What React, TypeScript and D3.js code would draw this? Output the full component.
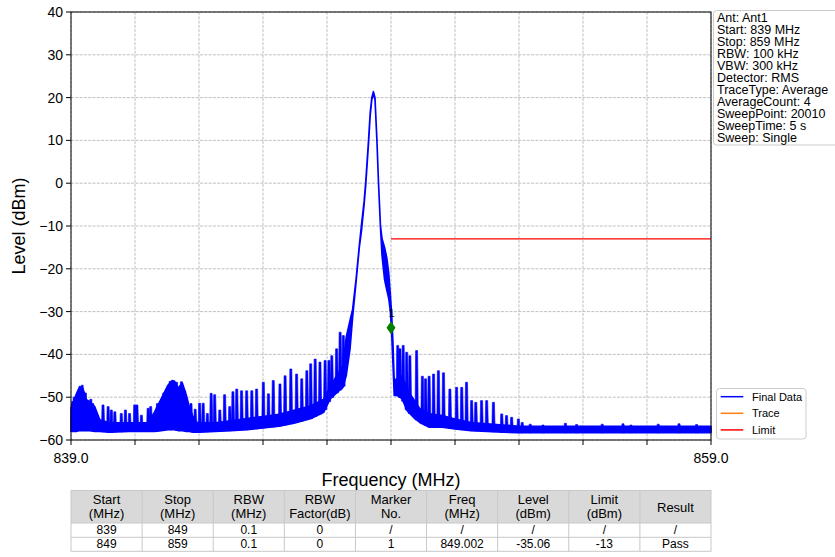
import React from 'react';
import * as d3 from 'd3';

// ---------- data ----------
const envFreq = [839.00, 839.17, 839.27, 839.375, 839.48, 839.58, 839.74, 839.90, 840.20, 840.80, 841.40, 841.61, 841.82, 842.03, 842.16, 842.24, 842.34, 842.48, 842.60, 842.71, 842.81, 842.95, 843.50, 844.00, 844.50, 845.00, 845.50, 846.00, 846.50, 846.90, 847.10, 847.30, 847.50, 847.60, 847.72, 847.80, 847.91, 848.01, 848.08, 848.16, 848.21, 848.30, 848.35, 848.40, 848.45, 848.50, 848.56, 848.61, 848.67, 848.72, 848.80, 848.87, 848.93, 848.98, 849.02, 849.06, 849.10, 849.20, 849.35, 849.50, 849.70, 849.90, 850.20, 850.60, 851.00, 851.50, 852.00, 852.50, 853.00, 859.00];
const envHigh = [-52.5, -49.2, -47.5, -48.0, -50.6, -51.0, -52.2, -55.3, -56.0, -56.0, -56.0, -53.5, -50.3, -47.2, -46.1, -46.3, -47.9, -46.7, -49.4, -52.6, -54.5, -56.0, -56.0, -55.5, -55.0, -54.5, -54.0, -53.0, -52.0, -50.5, -47.5, -45.0, -42.6, -36.0, -32.0, -29.5, -22.3, -14.5, -9.5, -4.2, 0.3, 10.3, 16.5, 20.0, 21.4, 20.0, 10.2, 0.2, -9.8, -13.0, -15.0, -17.5, -21.0, -26.0, -30.5, -37.0, -46.0, -45.7, -45.0, -48.1, -50.4, -52.7, -53.9, -54.3, -55.1, -55.9, -56.2, -56.5, -56.8, -56.8];
const envLow = [-58.0, -58.0, -57.8, -57.8, -57.8, -57.8, -58.0, -58.0, -58.2, -58.0, -58.0, -58.0, -57.8, -57.6, -57.6, -57.6, -57.8, -57.8, -58.0, -58.0, -58.2, -58.2, -58.0, -57.8, -57.6, -57.2, -56.8, -56.0, -55.0, -53.5, -50.4, -49.0, -47.7, -45.0, -38.7, -31.5, -23.0, -15.0, -11.0, -5.0, -0.5, 9.5, 15.8, 19.5, 21.0, 19.5, 9.8, -0.2, -10.3, -17.0, -22.6, -25.0, -27.0, -30.0, -35.0, -42.0, -49.6, -49.6, -50.4, -53.1, -54.7, -55.9, -57.0, -57.0, -57.4, -57.8, -58.0, -58.2, -58.3, -58.3];

const spikeFreq = [839.05, 839.10, 839.35, 839.45, 839.62, 839.68,
  840.00, 840.16, 840.26, 840.37, 840.57, 840.70, 840.83, 840.99, 841.06, 841.20, 841.41, 841.49,
  841.70, 841.90, 842.10, 842.30, 842.45, 842.55, 842.75, 842.88,
  843.02, 843.13, 843.26, 843.38, 843.49, 843.65, 843.80, 843.96, 844.06, 844.18, 844.33, 844.49, 844.65, 844.80,
  845.01, 845.17, 845.32, 845.53, 845.69, 845.87, 846.05, 846.21, 846.37, 846.49, 846.63, 846.78, 846.94, 847.06,
  847.15, 847.30, 847.41, 847.51,
  849.21, 849.28, 849.38, 849.49, 849.59, 849.80, 849.98, 850.08, 850.19, 850.33, 850.48, 850.64, 850.84, 851.05,
  851.21, 851.36, 851.52, 851.65, 851.83, 851.99, 852.20, 852.46, 852.61, 852.77, 852.98, 853.10,
  853.35, 853.75, 854.45, 854.80, 855.60, 856.25, 856.50, 857.35, 858.00, 858.55];
const spikePeak = [-51.0, -50.0, -47.2, -49.0, -50.5, -51.5,
  -51.8, -52.2, -53.0, -53.4, -53.8, -53.0, -53.8, -51.8, -51.8, -54.2, -52.6, -52.2,
  -51.5, -49.0, -46.3, -46.5, -46.4, -48.5, -51.5, -52.8,
  -51.4, -51.4, -53.8, -49.1, -49.4, -53.0, -49.4, -52.2, -48.7, -48.1, -48.5, -48.5, -48.5, -48.1,
  -46.5, -49.2, -46.1, -46.9, -45.0, -43.4, -44.6, -45.7, -43.8, -42.2, -41.1, -41.8, -41.4, -41.4,
  -40.3, -38.7, -34.8, -35.6,
  -37.9, -38.7, -37.9, -39.5, -40.3, -39.1, -45.1, -45.7, -45.1, -44.6, -43.8, -44.3, -48.1, -47.7,
  -47.7, -46.5, -50.8, -51.2, -50.8, -50.8, -51.2, -53.9, -54.3, -54.7, -55.1, -55.9,
  -56.3, -56.5, -56.1, -56.4, -56.3, -56.2, -56.5, -56.3, -56.2, -56.4];

const markerFreq = [849.0];
const markerLevel = [-33.8];
const markerLabel = ['1'];

const limitFreq = [849, 859];
const limitLevel = [-13, -13];

const xGridFreqs = [839, 841, 843, 845, 847, 849, 851, 853, 855, 857, 859];
const xTickFreqs = [839, 859];
const xTickLabels = ['839.0', '859.0'];
const yTicks = [-60, -50, -40, -30, -20, -10, 0, 10, 20, 30, 40];

const infoLines = ['Ant: Ant1', 'Start: 839 MHz', 'Stop: 859 MHz', 'RBW: 100 kHz', 'VBW: 300 kHz', 'Detector: RMS',
  'TraceType: Average', 'AverageCount: 4', 'SweepPoint: 20010', 'SweepTime: 5 s', 'Sweep: Single'];

const legendLabels = ['Final Data', 'Trace', 'Limit'];
const legendColors = ['#0000ff', '#ff7f0e', '#ff0000'];

const tableHead1 = ['Start', 'Stop', 'RBW', 'RBW', 'Marker', 'Freq', 'Level', 'Limit', 'Result'];
const tableHead2 = ['(MHz)', '(MHz)', '(MHz)', 'Factor(dB)', 'No.', '(MHz)', '(dBm)', '(dBm)', ''];
const tableRow1 = ['839', '849', '0.1', '0', '/', '/', '/', '/', '/'];
const tableRow2 = ['849', '859', '0.1', '0', '1', '849.002', '-35.06', '-13', 'Pass'];

// ---------- chart ----------
const FONT = "'Liberation Sans', Arial, sans-serif";

export default function App() {
  const x = d3.scaleLinear().domain([839, 859]).range([71, 711]);
  const y = d3.scaleLinear().domain([-60, 40]).range([440, 12]);
  const [x0, x1] = x.range();
  const [yb, yt] = y.range();

  const idx = d3.range(envFreq.length);
  const areaGen = d3.area<number>()
    .x(i => x(envFreq[i]))
    .y0(i => y(envLow[i]))
    .y1(i => y(envHigh[i]));
  const tracePath = areaGen(idx) || '';

  const lowAt = d3.scaleLinear().domain(envFreq).range(envLow);
  const sp = d3.path();
  spikeFreq.forEach((f, i) => {
    const xb = x(f);
    const base = y(lowAt(f));
    const top = y(spikePeak[i]);
    sp.moveTo(xb - 1.6, base);
    sp.lineTo(xb - 1.0, top);
    sp.lineTo(xb + 1.0, top);
    sp.lineTo(xb + 1.8, base);
    sp.closePath();
  });

  const limitLine = d3.line<number>().x(i => x(limitFreq[i])).y(i => y(limitLevel[i]))(d3.range(limitFreq.length)) || '';

  // table layout
  const tX0 = x0, tX1 = x1;
  const colW = (tX1 - tX0) / tableHead1.length;
  const tTop = 490.5, tHeadBot = 523, tRow1Bot = 537.3, tRow2Bot = 551.3;

  return (
    <svg width={835} height={557} style={{ position: 'absolute', left: 0, top: 0, background: '#fff' }} fontFamily={FONT}>
      <rect x={0} y={0} width={835} height={557} fill="#fff" />
      {/* grid */}
      <g stroke="#b0b0b0" strokeWidth={0.8} strokeDasharray="3,1.3">
        {xGridFreqs.map(f => <line key={'gx' + f} x1={x(f)} x2={x(f)} y1={yt} y2={yb} />)}
        {yTicks.map(v => <line key={'gy' + v} x1={x0} x2={x1} y1={y(v)} y2={y(v)} />)}
      </g>
      {/* limit */}
      <path d={limitLine} stroke="#ff0000" strokeWidth={1.3} fill="none" />
      {/* trace */}
      <path d={tracePath} fill="#0000ff" stroke="#0000ff" strokeWidth={1.6} strokeLinejoin="round" />
      <path d={sp.toString()} fill="#0000ff" stroke="#0000ff" strokeWidth={0.6} />
      {/* marker */}
      {markerFreq.map((f, i) => {
        const cx = x(f), cy = y(markerLevel[i]);
        return (
          <g key={'m' + i}>
            <text x={cx + 0.5} y={cy - 10.5} fontSize={11} textAnchor="middle" fill="#000">{markerLabel[i]}</text>
            <path d={`M${cx},${cy - 6.5}L${cx + 4.5},${cy}L${cx},${cy + 6.5}L${cx - 4.5},${cy}Z`} fill="#008000" />
          </g>
        );
      })}
      {/* spines */}
      <rect x={x0} y={yt} width={x1 - x0} height={yb - yt} fill="none" stroke="#000" strokeWidth={1} />
      {/* y ticks */}
      {yTicks.map(v => (
        <g key={'yt' + v}>
          <line x1={x0 - 5} x2={x0} y1={y(v)} y2={y(v)} stroke="#000" />
          <text x={x0 - 8} y={y(v) + 5} fontSize={14} textAnchor="end" fill="#000">{v < 0 ? '\u2212' + Math.abs(v) : String(v)}</text>
        </g>
      ))}
      {/* x ticks */}
      {xGridFreqs.map(f => <line key={'xt' + f} x1={x(f)} x2={x(f)} y1={yb} y2={yb + 5} stroke="#000" />)}
      {xTickFreqs.map((f, i) => (
        <text key={'xl' + f} x={x(f)} y={463} fontSize={14} textAnchor="middle" fill="#000">{xTickLabels[i]}</text>
      ))}
      {/* axis labels */}
      <text x={(x0 + x1) / 2} y={486} fontSize={18} textAnchor="middle" fill="#000">Frequency (MHz)</text>
      <text transform={`translate(25,${(yt + yb) / 2}) rotate(-90)`} fontSize={18} textAnchor="middle" fill="#000">Level (dBm)</text>

      {/* info box */}
      <rect x={713.5} y={10.5} width={130} height={134.5} rx={3} fill="#fff" stroke="#cccccc" />
      {infoLines.map((t, i) => (
        <text key={'info' + i} x={717} y={21.5 + 12 * i} fontSize={12.5} fill="#000">{t}</text>
      ))}

      {/* legend */}
      <rect x={716.5} y={388.5} width={89.5} height={50.5} rx={3} fill="#fff" stroke="#cccccc" />
      {legendLabels.map((l, i) => {
        const ly = 396.7 + 16.6 * i;
        return (
          <g key={'lg' + i}>
            <line x1={720.7} x2={743.3} y1={ly} y2={ly} stroke={legendColors[i]} strokeWidth={1.5} />
            <text x={752} y={ly + 4} fontSize={11} fill="#000">{l}</text>
          </g>
        );
      })}

      {/* table */}
      <rect x={tX0} y={tTop} width={tX1 - tX0} height={tHeadBot - tTop} fill="#d9d9d9" />
      <g stroke="#c8c8c8" strokeWidth={1} fill="none">
        <rect x={tX0} y={tTop} width={tX1 - tX0} height={tRow2Bot - tTop} />
        <line x1={tX0} x2={tX1} y1={tHeadBot} y2={tHeadBot} />
        <line x1={tX0} x2={tX1} y1={tRow1Bot} y2={tRow1Bot} />
        {d3.range(1, tableHead1.length).map(c => (
          <line key={'tc' + c} x1={tX0 + c * colW} x2={tX0 + c * colW} y1={tTop} y2={tRow2Bot} />
        ))}
      </g>
      {tableHead1.map((h, c) => {
        const cx = tX0 + (c + 0.5) * colW;
        return tableHead2[c] ? (
          <g key={'th' + c}>
            <text x={cx} y={503.5} fontSize={13} textAnchor="middle" fill="#000">{h}</text>
            <text x={cx} y={517.5} fontSize={13} textAnchor="middle" fill="#000">{tableHead2[c]}</text>
          </g>
        ) : (
          <text key={'th' + c} x={cx} y={511.5} fontSize={13} textAnchor="middle" fill="#000">{h}</text>
        );
      })}
      {tableRow1.map((t, c) => (
        <text key={'r1' + c} x={tX0 + (c + 0.5) * colW} y={534.3} fontSize={12} textAnchor="middle" fill="#000">{t}</text>
      ))}
      {tableRow2.map((t, c) => (
        <text key={'r2' + c} x={tX0 + (c + 0.5) * colW} y={548.4} fontSize={12} textAnchor="middle" fill="#000">{t}</text>
      ))}
    </svg>
  );
}
